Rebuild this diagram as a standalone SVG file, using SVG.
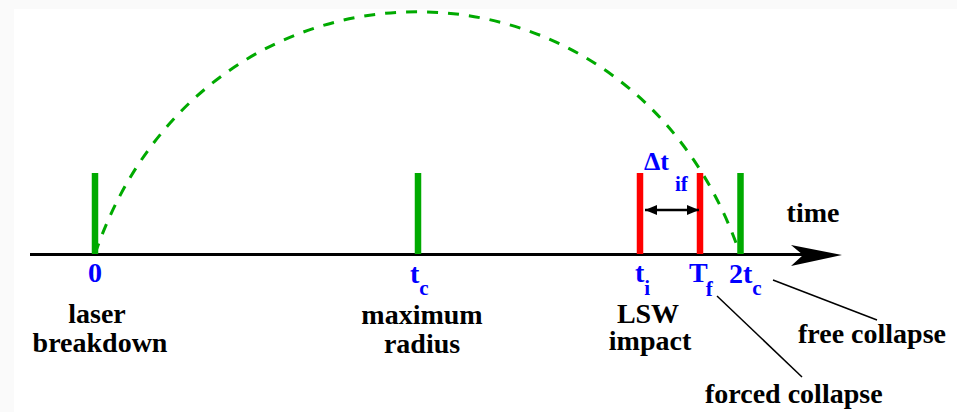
<svg xmlns="http://www.w3.org/2000/svg" width="957" height="412" viewBox="0 0 957 412">
<style>
text{font-family:'Liberation Serif','Times New Roman','DejaVu Serif',serif;font-weight:bold}
.lbl{font-size:28px;fill:#000}
.sym{font-size:28px;fill:#0000ff}
.sub{font-size:21px}
.gbar{stroke:#00aa00;stroke-width:6.5}
.rbar{stroke:#ff0000;stroke-width:6.5}
.lead{stroke:#000;stroke-width:1.5;fill:none}
</style>
<defs>
<marker id="ah" viewBox="0 0 12 10" refX="12" refY="5" markerWidth="12" markerHeight="10" markerUnits="userSpaceOnUse" orient="auto-start-reverse">
<path d="M0,0 L12,5 L0,10 Z" fill="#000"/>
</marker>
</defs>
<rect x="0" y="0" width="957" height="412" fill="#fafafa"/>
<rect x="14" y="9" width="943" height="403" fill="#ffffff"/>
<g id="arc">
<path d="M95,254 C205,-69 630,-69 740,254" fill="none" stroke="#00aa00" stroke-width="3" stroke-dasharray="11,10"/>
</g>
<g id="axis">
<line x1="30" y1="254.5" x2="805" y2="254.5" stroke="#000" stroke-width="3"/>
<path d="M791,245 L842,255 L791,266 L803,255 Z" fill="#000"/>
<text class="lbl" x="813" y="222" text-anchor="middle" font-family="Liberation Serif, serif">time</text>
</g>
<g id="n-0">
<line class="gbar" x1="95" y1="173" x2="95" y2="254"/>
<text class="sym" x="95" y="282" text-anchor="middle">0</text>
<text class="lbl" x="97" y="323" text-anchor="middle">laser</text>
<text class="lbl" x="100" y="352" text-anchor="middle">breakdown</text>
</g>
<g id="n-tc">
<line class="gbar" x1="418" y1="173" x2="418" y2="254"/>
<text class="sym" x="410" y="283">t<tspan class="sub" dy="12">c</tspan></text>
<text class="lbl" x="422" y="324" text-anchor="middle">maximum</text>
<text class="lbl" x="422" y="353" text-anchor="middle">radius</text>
</g>
<g id="n-ti">
<line class="rbar" x1="640" y1="173" x2="640" y2="254"/>
<text class="sym" x="635" y="282">t<tspan class="sub" dy="13">i</tspan></text>
<text class="lbl" x="648" y="323" text-anchor="middle">LSW</text>
<text class="lbl" x="650" y="350" text-anchor="middle">impact</text>
</g>
<g id="n-Tf">
<line class="rbar" x1="700" y1="173" x2="700" y2="254"/>
<text class="sym" x="689" y="282">T<tspan class="sub" dy="14" dx="-2">f</tspan></text>
</g>
<g id="n-2tc">
<line class="gbar" x1="740.5" y1="173" x2="740.5" y2="254"/>
<text class="sym" x="729" y="283">2t<tspan class="sub" dy="12">c</tspan></text>
</g>
<g id="n-dt">
<text class="sym" x="644" y="170" style="font-size:26px">Δt</text>
<text class="sym sub" x="675" y="191">if</text>
</g>
<g id="n-free">
<text class="lbl" x="798" y="343">free collapse</text>
</g>
<g id="n-forced">
<text class="lbl" x="705" y="403">forced collapse</text>
</g>
<g id="connectors">
<line x1="645" y1="210" x2="699" y2="210" stroke="#000" stroke-width="2.5" marker-start="url(#ah)" marker-end="url(#ah)"/>
<line class="lead" x1="773" y1="280" x2="877" y2="320"/>
<line class="lead" x1="717" y1="296" x2="802" y2="377"/>
</g>
</svg>
